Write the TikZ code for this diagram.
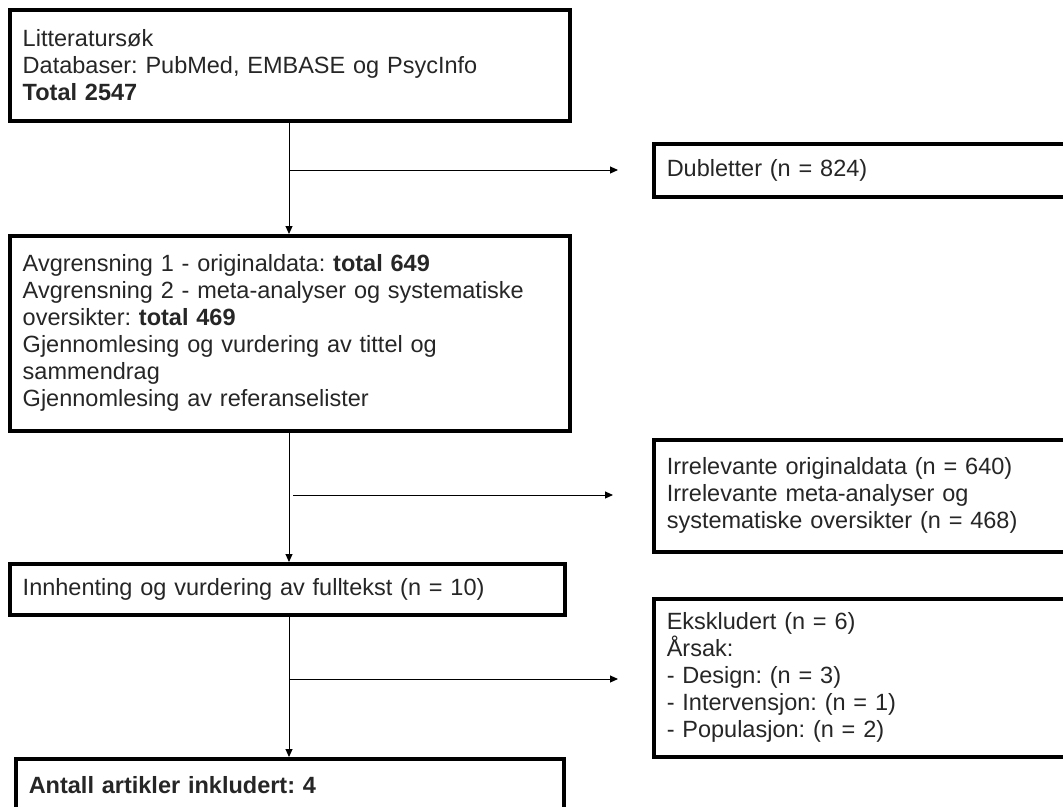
\documentclass[tikz,border=0pt]{standalone}
\usepackage{fontspec}
\setmainfont{Liberation Sans}
\usetikzlibrary{arrows.meta}
\begin{document}
\frenchspacing
\begin{tikzpicture}[x=1pt,y=-1pt,
  box/.style={draw=black, line width=3.5pt, rectangle, anchor=north west, align=left,
    inner xsep=13pt, inner ysep=0pt, text=black!85, font=\fontsize{23.5}{27}\selectfont},
  conn/.style={line width=1pt, -{Triangle[length=8pt,width=7pt]}}]
\path[use as bounding box, clip] (0,0) rectangle (1063,806);
\fill[white] (0,0) rectangle (1063,806);
\coordinate (spine) at (289,0);
\node[box, minimum width=560pt, minimum height=111pt, text width=534pt] (b1) at (8,8)
  {Litteratursøk\\Databaser: PubMed, EMBASE og PsycInfo\\\textbf{Total 2547}};
\node[box, minimum width=430pt, minimum height=53pt, text width=404pt] (dub) at (652,142)
  {Dubletter (n = 824)};
\node[box, minimum width=560pt, minimum height=195pt, text width=534pt] (b2) at (8,234)
  {Avgrensning 1 - originaldata: \textbf{total 649}\\Avgrensning 2 - meta-analyser og systematiske\\oversikter: \textbf{total 469}\\Gjennomlesing og vurdering av tittel og\\sammendrag\\Gjennomlesing av referanselister};
\node[box, minimum width=430pt, minimum height=112pt, text width=404pt] (irr) at (652,438)
  {Irrelevante originaldata (n = 640)\\Irrelevante meta-analyser og\\systematiske oversikter (n = 468)};
\node[box, minimum width=555pt, minimum height=51pt, text width=529pt] (inn) at (8,562)
  {Innhenting og vurdering av fulltekst (n = 10)};
\node[box, minimum width=430pt, minimum height=158pt, text width=404pt] (eks) at (652,597)
  {Ekskludert (n = 6)\\Årsak:\\- Design: (n = 3)\\- Intervensjon: (n = 1)\\- Populasjon: (n = 2)};
\node[box, minimum width=548pt, minimum height=52pt, text width=522pt] (ant) at (14,757)
  {\textbf{Antall artikler inkludert: 4}};
\draw[conn] (b1.south -| spine) -- (b2.north -| spine);
\draw[conn] (b2.south -| spine) -- (inn.north -| spine);
\draw[conn] (inn.south -| spine) -- (ant.north -| spine);
\coordinate (a1) at (289,170);
\coordinate (a2) at (293,495);
\coordinate (a3) at (289,679);
\draw[conn, shorten >=34pt] (a1) -- (a1 -| dub.west);
\draw[conn, shorten >=39pt] (a2) -- (a2 -| irr.west);
\draw[conn, shorten >=34pt] (a3) -- (a3 -| eks.west);
\end{tikzpicture}
\end{document}
